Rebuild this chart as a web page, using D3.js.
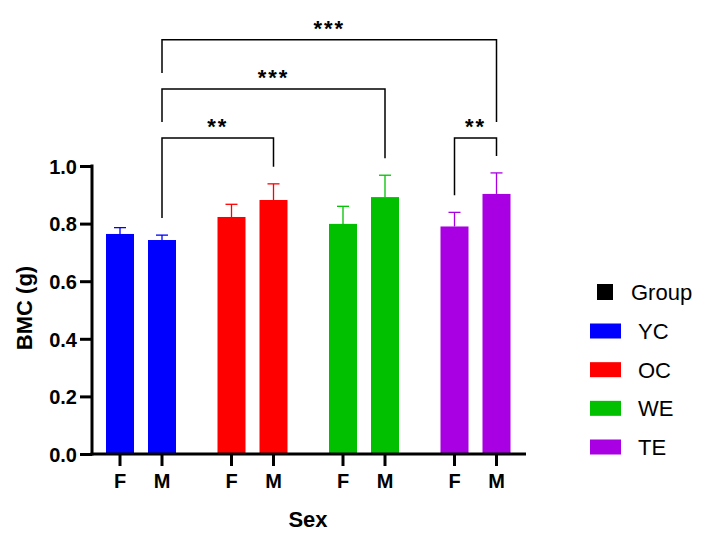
<!DOCTYPE html>
<html>
<head>
<meta charset="utf-8">
<script src="https://cdn.jsdelivr.net/npm/d3@7"></script>
<style>
  body { margin: 0; background: #fff; }
  text { font-family: Arial, "Liberation Sans", sans-serif; fill: #000; }
</style>
</head>
<body>
<svg id="chart" width="705" height="545"></svg>
<script>
// data
const groups = ["YC", "OC", "WE", "TE"];
const sexes = ["F", "M"];
const groupColors = ["#0000FF", "#FF0000", "#00C000", "#A800E2"];
const meanF = [0.764, 0.823, 0.799, 0.790];
const meanM = [0.743, 0.882, 0.892, 0.903];
const errF = [0.022, 0.044, 0.061, 0.049];
const errM = [0.017, 0.056, 0.076, 0.073];
const yTicks = [0, 0.2, 0.4, 0.6, 0.8, 1.0];
// significance brackets: [group, sex] to [group, sex], level in y units
const compFrom = [["YC", "M"], ["YC", "M"], ["TE", "F"], ["YC", "M"]];
const compTo = [["OC", "M"], ["WE", "M"], ["TE", "M"], ["TE", "M"]];
const compLevel = [1.097, 1.267, 1.097, 1.438];
const compLabel = ["**", "***", "**", "***"];

class BarChart {
  constructor(_config) {
    this.config = {
      parentElement: _config.parentElement,
      axisLeft: 92,
      axisRight: 526,
      yBottom: 454,
      yTop: 166,
      barWidth: 28,
      capWidth: 12
    };
    this.initVis();
  }

  initVis() {
    let vis = this;
    const c = vis.config;
    vis.svg = d3.select(c.parentElement);

    vis.data = [];
    groups.forEach((g, i) => {
      vis.data.push({ group: g, sex: "F", value: meanF[i], err: errF[i], color: groupColors[i] });
      vis.data.push({ group: g, sex: "M", value: meanM[i], err: errM[i], color: groupColors[i] });
    });

    vis.yScale = d3.scaleLinear().domain([0, 1]).range([c.yBottom, c.yTop]);
    vis.groupScale = d3.scalePoint().domain(groups).range([141, 475.5]);
    vis.sexScale = d3.scalePoint().domain(sexes).range([-21, 21]);
    vis.xPos = (g, s) => vis.groupScale(g) + vis.sexScale(s);

    vis.updateVis();
  }

  updateVis() {
    let vis = this;
    const c = vis.config;

    // bars
    vis.svg.append('g').selectAll('rect')
      .data(vis.data)
      .join('rect')
      .attr('x', d => vis.xPos(d.group, d.sex) - c.barWidth / 2)
      .attr('width', c.barWidth)
      .attr('y', d => vis.yScale(d.value))
      .attr('height', d => c.yBottom - vis.yScale(d.value))
      .attr('fill', d => d.color);

    // error bars (upper only)
    const eb = vis.svg.append('g').selectAll('g')
      .data(vis.data)
      .join('g')
      .attr('stroke', d => d.color)
      .attr('stroke-width', 1.3);
    eb.append('line')
      .attr('x1', d => vis.xPos(d.group, d.sex))
      .attr('x2', d => vis.xPos(d.group, d.sex))
      .attr('y1', d => vis.yScale(d.value))
      .attr('y2', d => vis.yScale(d.value + d.err));
    eb.append('line')
      .attr('x1', d => vis.xPos(d.group, d.sex) - c.capWidth / 2)
      .attr('x2', d => vis.xPos(d.group, d.sex) + c.capWidth / 2)
      .attr('y1', d => vis.yScale(d.value + d.err))
      .attr('y2', d => vis.yScale(d.value + d.err));

    // y axis
    const yAxisG = vis.svg.append('g')
      .attr('transform', `translate(${c.axisLeft},0)`)
      .call(d3.axisLeft(vis.yScale)
        .tickValues(yTicks)
        .tickFormat(d3.format('.1f'))
        .tickSize(12)
        .tickSizeOuter(0)
        .tickPadding(3));
    yAxisG.select('.domain').attr('stroke-width', 3).attr('stroke', '#000')
      .attr('d', `M0,${c.yTop - 1.5}V${c.yBottom + 1.5}`);
    yAxisG.selectAll('.tick line').attr('stroke-width', 3).attr('stroke', '#000');
    yAxisG.selectAll('.tick text')
      .style('font-size', '20px')
      .style('font-weight', 'bold')
      .attr('dy', '0.36em')
      .attr('fill', '#000');

    // x axis
    const xAxisG = vis.svg.append('g');
    xAxisG.append('line')
      .attr('x1', c.axisLeft - 1.5).attr('x2', c.axisRight)
      .attr('y1', c.yBottom).attr('y2', c.yBottom)
      .attr('stroke', '#000').attr('stroke-width', 3);
    const xt = xAxisG.selectAll('g.xtick')
      .data(vis.data)
      .join('g')
      .attr('class', 'xtick')
      .attr('transform', d => `translate(${vis.xPos(d.group, d.sex)},${c.yBottom})`);
    xt.append('line')
      .attr('y1', 0).attr('y2', 12)
      .attr('stroke', '#000').attr('stroke-width', 3);
    xt.append('text')
      .attr('y', 34)
      .attr('text-anchor', 'middle')
      .style('font-size', '20px')
      .style('font-weight', 'bold')
      .text(d => d.sex);

    // axis titles
    vis.svg.append('text')
      .attr('transform', 'rotate(-90)')
      .attr('x', -308)
      .attr('y', 32)
      .attr('text-anchor', 'middle')
      .style('font-size', '22px')
      .style('font-weight', 'bold')
      .text('BMC (g)');
    vis.svg.append('text')
      .attr('x', 308)
      .attr('y', 527)
      .attr('text-anchor', 'middle')
      .style('font-size', '22px')
      .style('font-weight', 'bold')
      .text('Sex');

    vis.drawBrackets();
    vis.drawLegend();
  }

  drawBrackets() {
    let vis = this;
    const comps = compLabel.map((lab, i) => {
      const x1 = vis.xPos(compFrom[i][0], compFrom[i][1]);
      const x2 = vis.xPos(compTo[i][0], compTo[i][1]);
      return { label: lab, x1: x1, x2: x2, xm: (x1 + x2) / 2, y: vis.yScale(compLevel[i]) };
    });

    // find where a leg should stop: above the bar, a lower bracket or its label
    const legEnd = (x, yLine) => {
      let stop = Infinity;
      vis.data.forEach(d => {
        if (Math.abs(vis.xPos(d.group, d.sex) - x) < 1) {
          stop = Math.min(stop, vis.yScale(d.value + d.err) - 17);
        }
      });
      comps.forEach(o => {
        if (o.y <= yLine + 1) return;
        if (x >= o.x1 - 1 && x <= o.x2 + 1) stop = Math.min(stop, o.y - 16);
        if (Math.abs(x - o.xm) < 20) stop = Math.min(stop, o.y - 31);
      });
      return stop;
    };

    const g = vis.svg.append('g');
    comps.forEach(o => {
      g.append('path')
        .attr('d', `M${o.x1},${legEnd(o.x1, o.y)}V${o.y}H${o.x2}V${legEnd(o.x2, o.y)}`)
        .attr('fill', 'none')
        .attr('stroke', '#000')
        .attr('stroke-width', 1.5);
      g.append('text')
        .attr('x', o.xm)
        .attr('y', o.y - 4)
        .attr('text-anchor', 'middle')
        .style('font-size', '22px')
        .style('font-weight', 'bold')
        .style('letter-spacing', '2px')
        .text(o.label);
    });
  }

  drawLegend() {
    let vis = this;
    const lg = vis.svg.append('g');
    lg.append('rect')
      .attr('x', 597).attr('y', 284)
      .attr('width', 16).attr('height', 16)
      .attr('fill', '#000');
    lg.append('text')
      .attr('x', 631).attr('y', 300)
      .style('font-size', '22px')
      .text('Group');

    const rowY = d3.scalePoint().domain(groups).range([331, 447]);
    const items = lg.selectAll('g.item')
      .data(groups)
      .join('g')
      .attr('class', 'item')
      .attr('transform', d => `translate(0,${rowY(d)})`);
    items.append('rect')
      .attr('x', 590).attr('y', -7.5)
      .attr('width', 31).attr('height', 15)
      .attr('fill', (d, i) => groupColors[i]);
    items.append('text')
      .attr('x', 638).attr('y', 8)
      .style('font-size', '22px')
      .text(d => d);
  }
}

new BarChart({ parentElement: '#chart' });
</script>
</body>
</html>
